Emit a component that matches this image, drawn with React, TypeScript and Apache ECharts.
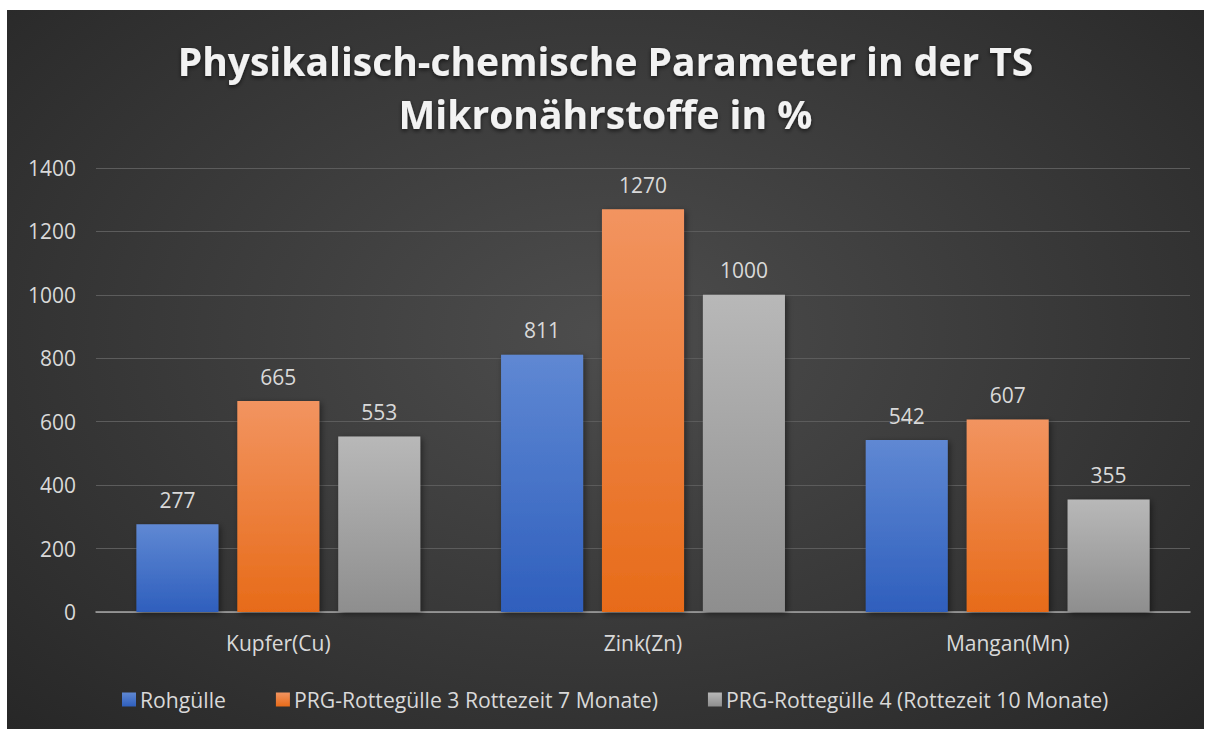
import React, { useEffect, useRef } from "react";
import * as echarts from "echarts";

const titleLines = ["Physikalisch-chemische Parameter in der TS", "Mikronährstoffe in %"];
const categories = ["Kupfer(Cu)", "Zink(Zn)", "Mangan(Mn)"];
const seriesNames = [
  "Rohgülle",
  "PRG-Rottegülle 3 Rottezeit 7 Monate)",
  "PRG-Rottegülle 4 (Rottezeit 10 Monate)",
];
const rohguelle = [277, 811, 542];
const prg3 = [665, 1270, 607];
const prg4 = [553, 1000, 355];
const yTicks = { min: 0, max: 1400, interval: 200 };

const gradients = [
  ["#5f88d3", "#2f5fbd"],
  ["#f29460", "#e76b19"],
  ["#b8b8b8", "#8e8e8e"],
];

export default function App() {
  const ref = useRef<HTMLDivElement>(null);
  useEffect(() => {
    if (!ref.current) return;
    const chart = echarts.init(ref.current, undefined, { renderer: "svg" });
    const values = [rohguelle, prg3, prg4];
    const textColor = "#d9d9d9";
    const font = "'Open Sans', 'Noto Sans', sans-serif";
    chart.setOption({
      animation: false,
      backgroundColor: "transparent",
      title: {
        text: titleLines.join("\n"),
        left: "center",
        top: 19,
        textStyle: {
          color: "#f2f2f2",
          fontFamily: font,
          fontWeight: "bold",
          fontSize: 39,
          lineHeight: 53,
          textShadowColor: "rgba(0,0,0,0.6)",
          textShadowBlur: 4,
          textShadowOffsetY: 2,
        },
      },
      legend: {
        left: 110,
        top: 674,
        itemWidth: 14,
        itemHeight: 14,
        itemGap: 50,
        icon: "rect",
        textStyle: { color: textColor, fontSize: 21.2, fontFamily: font, padding: [0, 0, 0, -1] },
        data: seriesNames,
      },
      grid: { left: 89, right: 14, top: 158, bottom: 117, containLabel: false },
      xAxis: {
        type: "category",
        data: categories,
        axisLine: { lineStyle: { color: "#a6a6a6", width: 1.5 } },
        axisTick: { show: false },
        axisLabel: { color: textColor, fontSize: 21, fontFamily: font, margin: 20 },
      },
      yAxis: {
        type: "value",
        min: yTicks.min,
        max: yTicks.max,
        interval: yTicks.interval,
        axisLine: { show: false },
        axisTick: { show: false },
        splitLine: { lineStyle: { color: "#5c5c5c", width: 1 } },
        axisLabel: {
          color: textColor,
          fontSize: 21,
          fontFamily: font,
          margin: 20,
          formatter: (v: number) => String(v),
        },
      },
      series: seriesNames.map((name, i) => ({
        name,
        type: "bar",
        data: values[i],
        barWidth: "22.5%",
        barGap: "23%",
        itemStyle: {
          color: new echarts.graphic.LinearGradient(0, 0, 0, 1, [
            { offset: 0, color: gradients[i][0] },
            { offset: 1, color: gradients[i][1] },
          ]),
          shadowColor: "rgba(0,0,0,0.45)",
          shadowBlur: 6,
          shadowOffsetX: 2,
          shadowOffsetY: 2,
        },
        label: {
          show: true,
          position: "top",
          distance: 14,
          color: textColor,
          fontSize: 21,
          fontFamily: font,
        },
      })),
    });
    return () => chart.dispose();
  }, []);
  return (
    <div
      style={{
        position: "absolute",
        left: 7,
        top: 10,
        width: 1197,
        height: 719,
        background: "radial-gradient(ellipse at 50% 45%, #4d4d4d 0%, #3c3c3c 45%, #272727 100%)",
      }}
    >
      <div ref={ref} style={{ width: 1197, height: 719 }} />
    </div>
  );
}
